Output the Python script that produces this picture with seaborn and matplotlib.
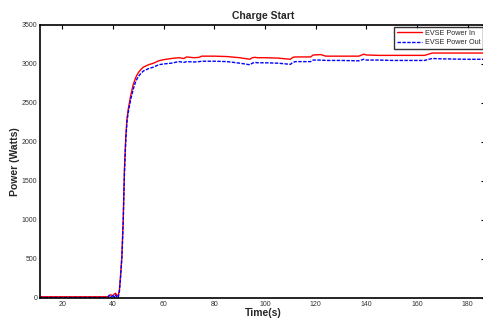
import matplotlib
matplotlib.use('Agg')
import matplotlib.pyplot as plt
import numpy as np
import pandas as pd
import seaborn as sns

# time axis (s) shared by both traces
time_s = [11, 38, 38.5, 39, 39.5, 40, 40.5, 41, 41.5, 42, 42.5, 43, 43.5, 44, 44.5,
          45, 45.5, 46, 47, 48, 49, 50, 51, 52, 54, 56, 58, 60, 63, 66, 68, 69, 72,
          74, 75, 80, 85, 90, 94, 95, 96, 97, 100, 105, 110, 111, 112, 115, 118, 119,
          122, 124, 130, 137, 139, 140, 145, 150, 155, 160, 163, 164, 166, 170, 180, 187]

power_in = [15, 15, 25, 40, 35, 30, 50, 60, 35, 25, 100, 300, 550, 1000, 1650,
            2050, 2300, 2420, 2600, 2740, 2830, 2890, 2930, 2960, 2990, 3010, 3040, 3055,
            3070, 3080, 3070, 3090, 3080, 3085, 3100, 3100, 3095, 3080, 3060, 3080, 3085,
            3080, 3080, 3075, 3060, 3085, 3090, 3090, 3090, 3115, 3120, 3100, 3100, 3100,
            3125, 3115, 3110, 3110, 3110, 3110, 3110, 3120, 3140, 3140, 3140, 3140]

power_out = [5, 5, 35, 10, 15, 40, 5, 40, 10, 0, 80, 280, 520, 950, 1600,
             2000, 2260, 2380, 2550, 2680, 2780, 2840, 2880, 2910, 2940, 2960, 2990, 3000,
             3010, 3030, 3020, 3030, 3025, 3030, 3035, 3035, 3030, 3010, 2990, 3010, 3020,
             3015, 3015, 3010, 2995, 3020, 3030, 3030, 3030, 3050, 3050, 3045, 3045, 3040,
             3060, 3050, 3050, 3045, 3045, 3045, 3045, 3055, 3070, 3065, 3060, 3060]

series_names = ['EVSE Power In', 'EVSE Power Out']

df = pd.concat([
    pd.DataFrame({'t': time_s, 'p': power_in, 'series': series_names[0]}),
    pd.DataFrame({'t': time_s, 'p': power_out, 'series': series_names[1]}),
])

sns.set_style('white')
plt.rcParams['font.family'] = ['Liberation Sans', 'DejaVu Sans']

fig = plt.figure(figsize=(4.83, 3.2), dpi=100)
ax = fig.add_axes([0.083, 0.069, 0.922, 0.853])

sns.lineplot(data=df, x='t', y='p', hue='series', style='series',
             palette={series_names[0]: '#ff0000', series_names[1]: '#0000ff'},
             dashes={series_names[0]: '', series_names[1]: (2.5, 1)},
             linewidth=1.0, ax=ax, estimator=None, sort=False)

ax.set_xlim(11.2, 187)
ax.set_ylim(0, 3500)
ax.set_xticks(np.arange(20, 181, 20))
ax.set_yticks(np.arange(0, 3501, 500))
ax.tick_params(direction='in', length=3, width=0.8, labelsize=5,
               top=True, right=True, pad=2, colors='black', labelcolor='#333333')
for s in ax.spines.values():
    s.set_color('black')
    s.set_linewidth(1.2)

ax.set_title('Charge Start', fontsize=7.5, fontweight='bold', pad=4)
ax.set_xlabel('Time(s)', fontsize=7.5, fontweight='bold', labelpad=0)
ax.set_ylabel('Power (Watts)', fontsize=7.5, fontweight='bold', labelpad=1)

leg = ax.legend(loc='upper right', fontsize=5.2, frameon=True, fancybox=False,
                handlelength=3.5, borderpad=0.35, labelspacing=0.35,
                borderaxespad=0.3, handletextpad=0.4)
leg.set_title(None)
leg.get_frame().set_edgecolor('black')
leg.get_frame().set_linewidth(1.0)

fig.savefig('out.png', dpi=100)
